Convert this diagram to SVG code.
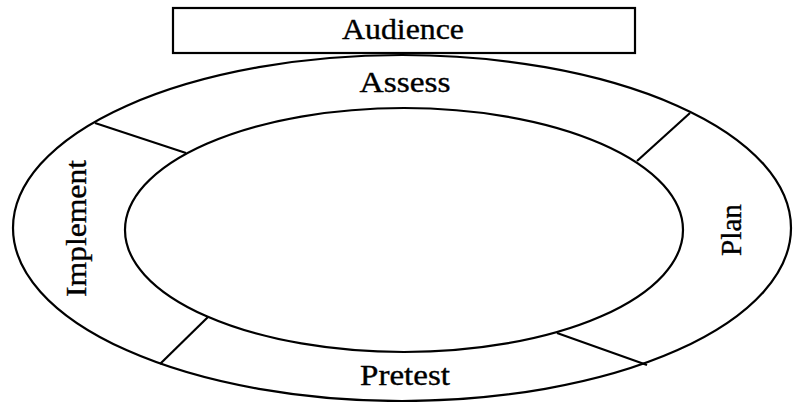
<svg xmlns="http://www.w3.org/2000/svg" width="793" height="402" viewBox="0 0 793 402">
<style>
.s{fill:none;stroke:#000;stroke-width:2.2}
.t{font-family:"Liberation Serif","Times New Roman",serif;font-size:28.5px;fill:#000;stroke:#000;stroke-width:0.35;text-anchor:middle}
</style>
<rect width="793" height="402" fill="#fff"/>
<g id="ring">
<ellipse class="s" cx="402" cy="228" rx="389" ry="173"/>
<ellipse class="s" cx="404" cy="230" rx="279" ry="122"/>
</g>
<g id="connectors">
<line class="s" x1="95" y1="123" x2="186" y2="153"/>
<line class="s" x1="690" y1="113" x2="637" y2="161"/>
<line class="s" x1="208" y1="317" x2="160" y2="364"/>
<line class="s" x1="557" y1="333" x2="647" y2="365"/>
</g>
<g id="audience">
<rect class="s" x="173" y="8" width="462" height="45"/>
<text class="t" x="403" y="39" textLength="122" lengthAdjust="spacingAndGlyphs">Audience</text>
</g>
<g id="assess">
<text class="t" x="405" y="91.5" textLength="91" lengthAdjust="spacingAndGlyphs">Assess</text>
</g>
<g id="plan">
<text class="t" transform="translate(741,230) rotate(-90)" x="0" y="0" textLength="52" lengthAdjust="spacingAndGlyphs">Plan</text>
</g>
<g id="pretest">
<text class="t" x="405" y="385" textLength="90" lengthAdjust="spacingAndGlyphs">Pretest</text>
</g>
<g id="implement">
<text class="t" transform="translate(86,228.5) rotate(-90)" x="0" y="0" textLength="137" lengthAdjust="spacingAndGlyphs">Implement</text>
</g>
</svg>
